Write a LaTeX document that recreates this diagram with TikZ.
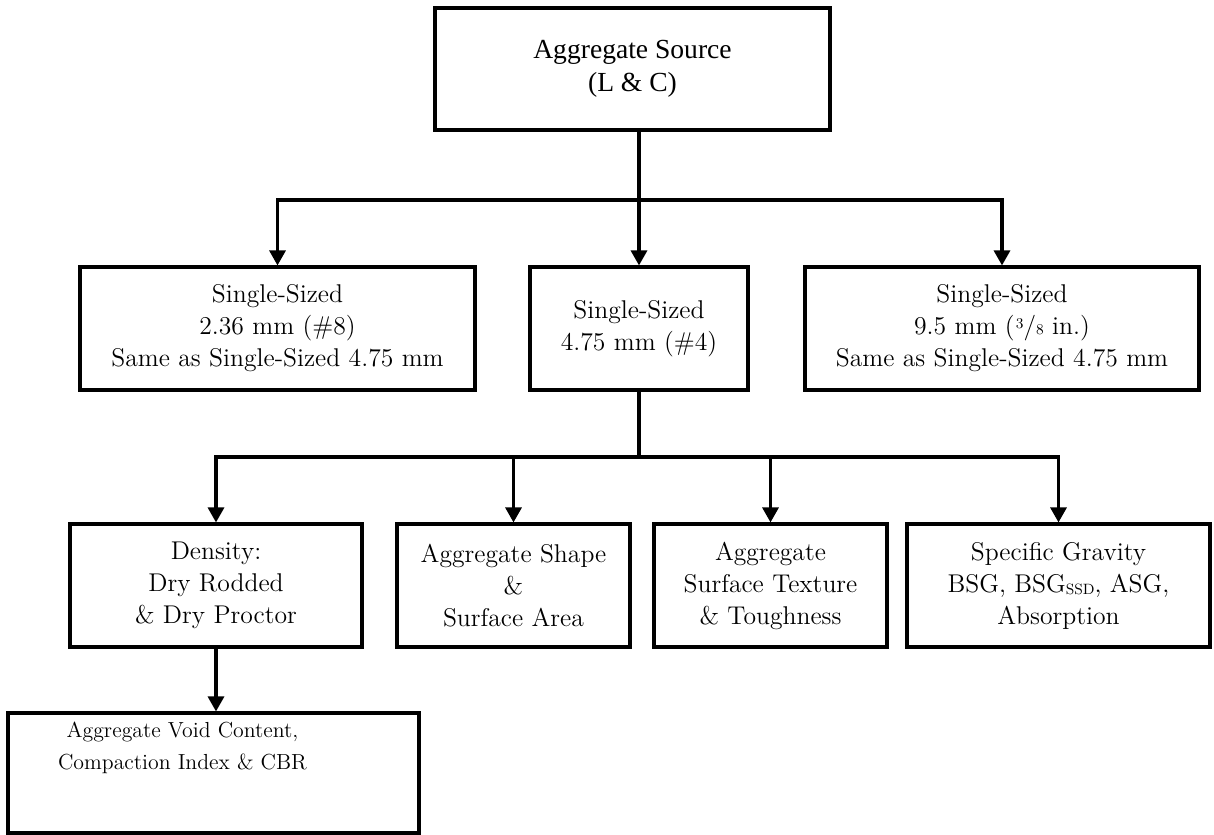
\documentclass[tikz,border=0pt]{standalone}
\usepackage{fontspec}
\newfontfamily\timesfont{Liberation Serif}
\usetikzlibrary{arrows.meta,positioning}
\newcommand{\boxfont}{\fontsize{14.6}{18.2}\selectfont}
\newcommand{\smallfig}[1]{{\fontsize{8.5}{8.5}\selectfont #1}}
\tikzset{
  box/.style={draw, line width=1.8pt, align=center, inner sep=2pt,
    minimum height=2.46cm, font=\boxfont},
  link/.style={line width=1.8pt},
  arr/.style={line width=1.8pt, -{Triangle[length=0.3cm,width=0.32cm]}},
}

\begin{document}
\begin{tikzpicture}[x=0.02cm,y=-0.02cm]
    \useasboundingbox (0,0) rectangle (1214,835);
    % Source
    \node[box, minimum width=7.9cm, minimum height=2.44cm,
      font=\timesfont\fontsize{15.7}{18.9}\selectfont] (src) at (632.5,69)
      {Aggregate Source\\(L \& C)};
    % Single-sized fractions
    \node[box, minimum width=7.9cm] (ss8) at (277.5,328.5)
      {Single-Sized\\2.36 mm (\#8)\\Same as Single-Sized 4.75 mm};
    \node[box, minimum width=4.36cm] (ss4) at (639,328.5)
      {Single-Sized\\4.75 mm (\#4)};
    \node[box, minimum width=7.88cm] (ss38) at (1002,328.5)
      {Single-Sized\\9.5 mm (\kern0.05em\raisebox{0.55ex}{\smallfig{3}}/\smallfig{8} in.)\\Same as Single-Sized 4.75 mm};
    % Tests on 4.75 mm
    \node[box, minimum width=5.84cm] (dens) at (216,585.5)
      {Density:\\Dry Rodded\\\& Dry Proctor};
    \node[box, minimum width=4.66cm] (shape) at (513.5,585.5)
      {Aggregate Shape\\\&\\Surface Area};
    \node[box, minimum width=4.66cm] (tex) at (770.5,585.5)
      {Aggregate\\Surface Texture\\\& Toughness};
    \node[box, minimum width=6.06cm] (sg) at (1058.5,585.5)
      {Specific Gravity\\BSG, BSG\raisebox{-0.25ex}{\smallfig{SSD}}, ASG,\\Absorption};
    % Void content
    \node[draw, line width=1.8pt, minimum width=8.22cm, minimum height=2.4cm] (void) at (213.5,773) {};
    \node[align=center, anchor=north, font=\fontsize{12.4}{18.2}\selectfont, inner sep=0pt] (voidtxt)
      at ([xshift=-0.62cm,yshift=-0.2cm]void.north)
      {Aggregate Void Content,\\Compaction Index \& CBR};
    % Connectors
    \coordinate (j1) at (639,200);
    \coordinate (j2) at (639,457);
    \draw[link] (src.south -| j1) -- (j1);
    \draw[arr] (j1) -| (ss8.north);
    \draw[arr] (j1) -- (ss4.north);
    \draw[arr] (j1) -| (ss38.north);
    \draw[link] (ss4.south) -- (j2);
    \draw[arr] (j2) -| (dens.north);
    \draw[arr] (j2) -| (sg.north);
    \draw[arr] (shape.north |- j2) -- (shape.north);
    \draw[arr] (tex.north |- j2) -- (tex.north);
    \draw[arr] (dens.south) -- (dens.south |- void.north);
\end{tikzpicture}
\end{document}
